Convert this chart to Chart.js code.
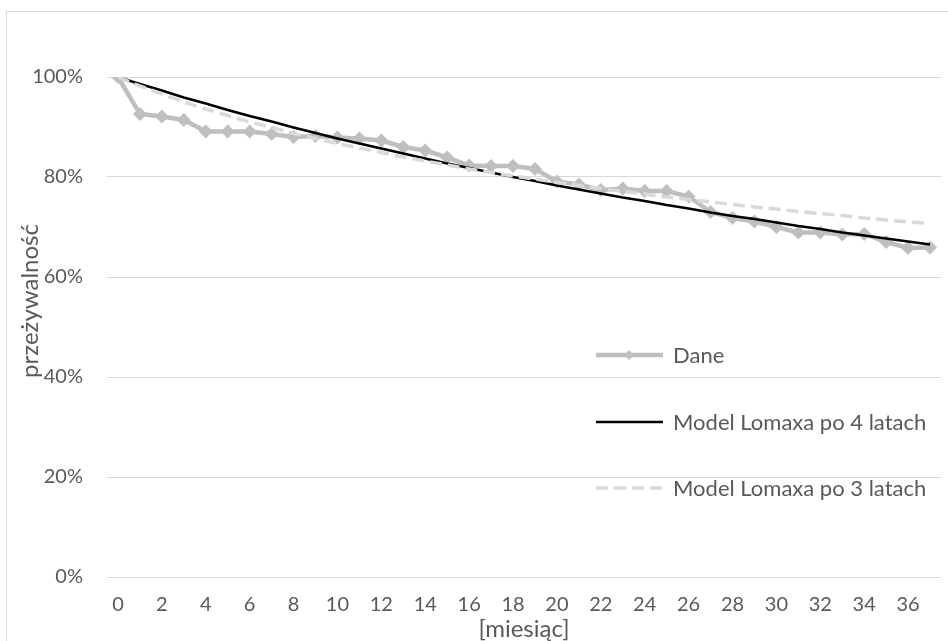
<!DOCTYPE html>
<html lang="pl">
<head>
<meta charset="utf-8">
<title>Przeżywalność – model Lomaxa</title>
<script src="https://cdn.jsdelivr.net/npm/chart.js@4.4.1/dist/chart.umd.min.js"></script>
<style>
  html, body { margin: 0; padding: 0; background: #fff; }
  canvas { display: block; }
</style>
</head>
<body>
<canvas id="survivalChart" width="948" height="641"></canvas>
<script>
/* =========================
   DANE
========================= */
const months = ['0', '1', '2', '3', '4', '5', '6', '7', '8', '9',
  '10', '11', '12', '13', '14', '15', '16', '17', '18', '19',
  '20', '21', '22', '23', '24', '25', '26', '27', '28', '29',
  '30', '31', '32', '33', '34', '35', '36', '37'];

// przeżywalność obserwowana [%]
const dane = [100, 92.6, 92.1, 91.4, 89.1, 89.1, 89.1, 88.6, 88.0, 88.2,
  87.9, 87.7, 87.3, 86.0, 85.3, 83.9, 82.3, 82.2, 82.2, 81.6,
  79.1, 78.5, 77.4, 77.7, 77.2, 77.2, 76.1, 73.0, 71.8, 71.1,
  70.0, 68.9, 68.9, 68.5, 68.6, 67.0, 65.8, 65.9];

// Model Lomaxa dopasowany po 4 latach
const lomax4 = [100, 98.6, 97.3, 95.9, 94.7, 93.4, 92.2, 91.1, 89.9, 88.8,
  87.7, 86.7, 85.7, 84.7, 83.7, 82.7, 81.8, 80.9, 80.0, 79.2,
  78.3, 77.5, 76.7, 75.9, 75.2, 74.4, 73.7, 72.9, 72.2, 71.6,
  70.9, 70.2, 69.6, 68.9, 68.3, 67.7, 67.1, 66.5];

// Model Lomaxa dopasowany po 3 latach
const lomax3 = [100, 98.2, 96.6, 95.0, 93.6, 92.3, 91.0, 89.9, 88.7, 87.7,
  86.7, 85.8, 84.9, 84.0, 83.2, 82.4, 81.6, 80.9, 80.2, 79.6,
  78.9, 78.3, 77.7, 77.1, 76.6, 76.0, 75.5, 75.0, 74.5, 74.0,
  73.6, 73.1, 72.7, 72.3, 71.8, 71.4, 71.0, 70.7];

const yTicks = [0, 20, 40, 60, 80, 100];

const seriesNames = ['Dane', 'Model Lomaxa po 4 latach', 'Model Lomaxa po 3 latach'];

const TEXT = '#595959';
const GRID = '#d9d9d9';
const FONT = 'Lato, "Open Sans", sans-serif';

/* =========================
   RAMKA, LEGENDA, OPISY OSI
========================= */
const decorations = {
  id: 'decorations',
  beforeDraw(chart) {
    const ctx = chart.ctx;
    ctx.save();
    ctx.strokeStyle = GRID;
    ctx.lineWidth = 1;
    ctx.beginPath();
    ctx.moveTo(6.5, chart.height);
    ctx.lineTo(6.5, 11.5);
    ctx.lineTo(chart.width, 11.5);
    ctx.stroke();
    ctx.restore();
  },
  afterDraw(chart) {
    const ctx = chart.ctx;
    const area = chart.chartArea;
    ctx.save();
    ctx.fillStyle = TEXT;
    ctx.textBaseline = 'middle';

    // legenda wewnątrz obszaru wykresu
    ctx.font = '22px ' + FONT;
    const rows = [355, 422, 488];
    chart.data.datasets.forEach((ds, i) => {
      const y = rows[i];
      ctx.save();
      ctx.strokeStyle = ds.borderColor;
      ctx.lineWidth = ds.borderWidth;
      ctx.setLineDash(ds.borderDash || []);
      ctx.beginPath();
      ctx.moveTo(596, y);
      ctx.lineTo(663, y);
      ctx.stroke();
      ctx.restore();
      if (ds.pointRadius > 0) {
        ctx.fillStyle = ds.pointBackgroundColor;
        ctx.beginPath();
        ctx.moveTo(629, y - 5);
        ctx.lineTo(634, y);
        ctx.lineTo(629, y + 5);
        ctx.lineTo(624, y);
        ctx.closePath();
        ctx.fill();
        ctx.fillStyle = TEXT;
      }
      ctx.textAlign = 'left';
      ctx.fillText(ds.label, 673, y + 1);
    });

    // opis osi X
    ctx.font = '24px ' + FONT;
    ctx.textAlign = 'center';
    ctx.fillText('[miesiąc]', (area.left + area.right) / 2, 629);

    // opis osi Y
    ctx.translate(30, 301);
    ctx.rotate(-Math.PI / 2);
    ctx.fillText('przeżywalność', 0, 0);
    ctx.restore();
  }
};

/* =========================
   WYKRES
========================= */
function initChart() {
  const canvas = document.getElementById('survivalChart');
  if (!canvas) return;

  Chart.defaults.font.family = FONT;
  Chart.defaults.font.size = 20;
  Chart.defaults.color = TEXT;

  new Chart(canvas, {
    type: 'line',
    data: {
      labels: months,
      datasets: [
        {
          label: seriesNames[0],
          data: dane,
          borderColor: '#bfbfbf',
          borderWidth: 4.5,
          pointStyle: 'rectRot',
          pointRadius: 7,
          pointBackgroundColor: '#bfbfbf',
          pointBorderWidth: 0,
          tension: 0,
          order: 2
        },
        {
          label: seriesNames[1],
          data: lomax4,
          borderColor: '#000000',
          borderWidth: 2.4,
          pointRadius: 0,
          tension: 0,
          order: 1
        },
        {
          label: seriesNames[2],
          data: lomax3,
          borderColor: '#d9d9d9',
          borderWidth: 3.5,
          borderDash: [12, 6],
          pointRadius: 0,
          tension: 0,
          order: 0
        }
      ]
    },
    options: {
      responsive: false,
      animation: false,
      layout: {
        padding: { top: 77, right: 5, left: 0, bottom: 0 }
      },
      plugins: {
        legend: { display: false },
        tooltip: { enabled: false }
      },
      scales: {
        x: {
          offset: true,
          grid: { display: false, drawTicks: false },
          border: { display: false },
          ticks: {
            autoSkip: false,
            maxRotation: 0,
            padding: 16,
            callback: (value, index) => (index % 2 === 0 ? months[index] : '')
          },
          afterFit: scale => { scale.height = 64; }
        },
        y: {
          min: 0,
          max: 100,
          grid: { color: GRID, lineWidth: 1, drawTicks: false },
          border: { display: false },
          afterBuildTicks: scale => {
            scale.ticks = yTicks.map(v => ({ value: v }));
          },
          ticks: {
            padding: 24,
            callback: value => value + '%'
          },
          afterFit: scale => { scale.width = 107; }
        }
      }
    },
    plugins: [decorations]
  });
}

document.addEventListener('DOMContentLoaded', () => {
  initChart();
});
</script>
</body>
</html>
